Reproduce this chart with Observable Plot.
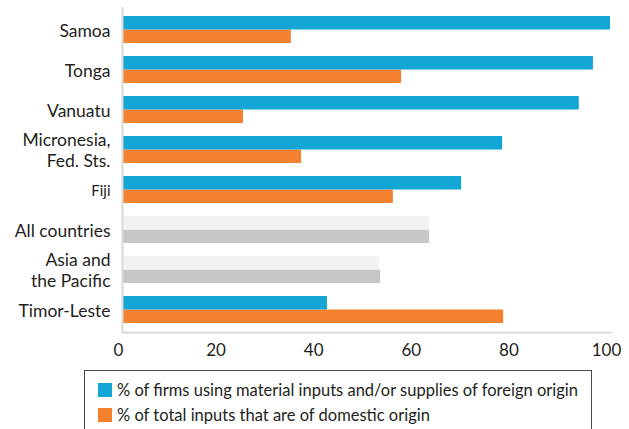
<!DOCTYPE html>
<html><head><meta charset="utf-8">
<script src="https://cdn.jsdelivr.net/npm/d3@7"></script>
<script src="https://cdn.jsdelivr.net/npm/@observablehq/plot@0.6"></script>
<style>
html,body{margin:0;padding:0;background:#fff;}
body{width:629px;height:429px;overflow:hidden;position:relative;font-family:Lato,"Open Sans",sans-serif;}
#legend{position:absolute;left:84px;top:370px;width:508px;height:70px;border:1px solid #4a4a4a;box-sizing:border-box;padding-top:7px;}
.item{display:flex;align-items:center;height:24.5px;margin-left:13px;font-size:16.5px;color:#231f20;}
.sw{width:14px;height:14px;margin-right:5px;flex:none;}
</style></head>
<body>
<div id="chart"></div>
<div id="legend"></div>
<script>
const countries = ["Samoa","Tonga","Vanuatu","Micronesia,\nFed. Sts.","Fiji","All countries","Asia and\nthe Pacific","Timor-Leste"];
const foreign = [100, 96.5, 93.6, 77.9, 69.5, 62.9, 52.7, 42.0];
const domestic = [34.6, 57.2, 24.8, 36.7, 55.5, 62.9, 52.9, 78.1];
const aggregates = ["All countries","Asia and\nthe Pacific"];
const seriesNames = ["% of firms using material inputs and/or supplies of foreign origin","% of total inputs that are of domestic origin"];
const xTicks = [0,20,40,60,80,100];

const colors = {foreign:"#13a6d4", domestic:"#f3812e", aggForeign:"#f1f2f4", aggDomestic:"#c6c7c9"};

const rows = countries.map((c,i)=>({country:c, foreign:foreign[i], domestic:domestic[i], agg:aggregates.includes(c)}));

const chart = Plot.plot({
  width: 629,
  height: 365,
  marginLeft: 122,
  marginRight: 19,
  marginTop: 7,
  marginBottom: 33,
  style: {fontFamily: "Lato, 'Open Sans', sans-serif", color: "#231f20"},
  x: {domain:[0,100], ticks: xTicks},
  y: {domain: countries, paddingInner: 0.33, paddingOuter: 0.186, axis: null},
  marks: [
    Plot.barX(rows, {y:"country", x:"domestic", fill: d=> d.agg ? colors.aggDomestic : colors.domestic, insetTop: 13.5}),
    Plot.barX(rows, {y:"country", x:"foreign", fill: d=> d.agg ? colors.aggForeign : colors.foreign, insetBottom: 13.5}),
    Plot.ruleX([0], {stroke:"#d9d9d9", strokeWidth:2}),
    Plot.frame({anchor:"bottom", stroke:"#d9d9d9", strokeWidth:2}),
    Plot.axisX({ticks: xTicks, tickSize:0, tickPadding:11, fontSize:17, dx:-4, fill:"#231f20"}),
    Plot.text(countries, {y: d=>d, frameAnchor:"left", text: d=>d, textAnchor:"end", dx:-12,
      fontSize: d => d==="Fiji" ? 15 : 17.5, lineHeight: 1.2, fill:"#231f20"})
  ]
});
document.getElementById("chart").appendChild(chart);

const legend = document.getElementById("legend");
[colors.foreign, colors.domestic].forEach((c,i)=>{
  const it = document.createElement("div"); it.className="item";
  const sw = document.createElement("span"); sw.className="sw"; sw.style.background=c;
  const t = document.createElement("span"); t.textContent = seriesNames[i];
  it.appendChild(sw); it.appendChild(t); legend.appendChild(it);
});
</script>
</body></html>
